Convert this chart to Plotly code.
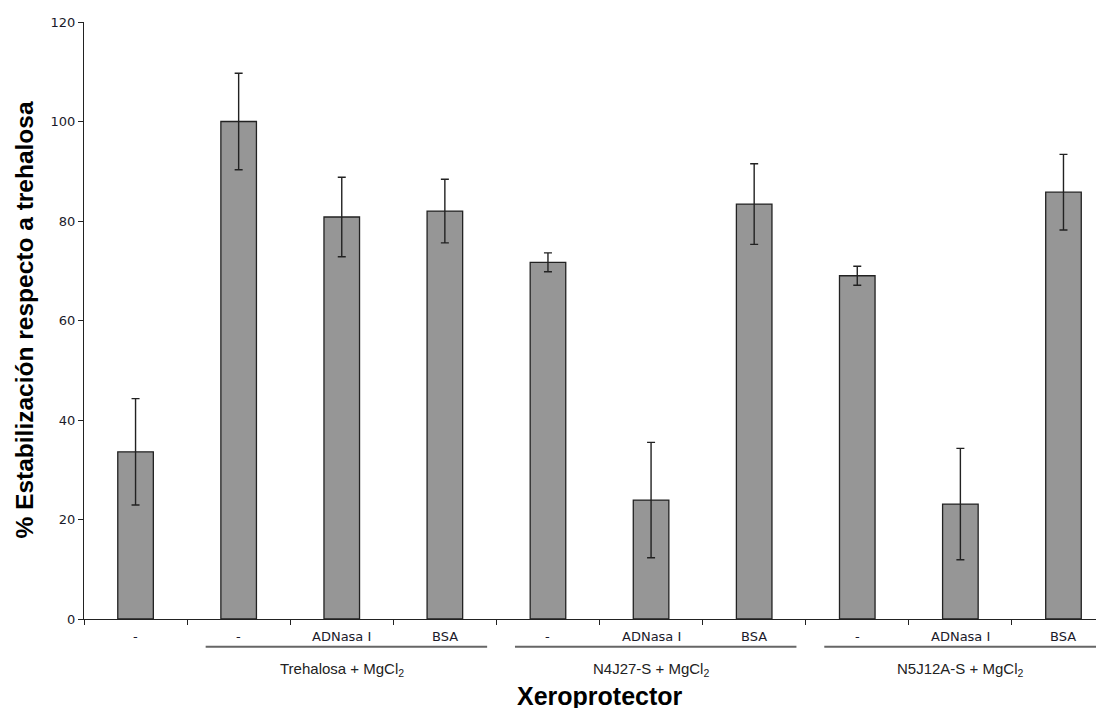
import plotly.graph_objects as go

# ---- data ----
categories = ["-", "-", "ADNasa I", "BSA", "-", "ADNasa I", "BSA", "-", "ADNasa I", "BSA"]
values = [33.6, 100.0, 80.8, 82.0, 71.7, 23.9, 83.4, 69.0, 23.1, 85.8]
errors = [10.7, 9.7, 8.0, 6.4, 1.9, 11.6, 8.1, 1.9, 11.2, 7.6]
groups = ["Trehalosa + MgCl<sub>2</sub>", "N4J27-S + MgCl<sub>2</sub>", "N5J12A-S + MgCl<sub>2</sub>"]
group_members = [[1, 2, 3], [4, 5, 6], [7, 8, 9]]
y_ticks = [0, 20, 40, 60, 80, 100, 120]

xpos = list(range(len(categories)))

fig = go.Figure()
fig.add_trace(go.Bar(
    x=xpos, y=values, width=0.345,
    marker=dict(color="#969696", line=dict(color="#222222", width=1.3)),
    error_y=dict(type="data", array=errors, visible=True, color="#222222",
                 thickness=1.4, width=4),
    showlegend=False,
))

annotations = []
shapes = []
# category labels
for i, c in enumerate(categories):
    annotations.append(dict(x=i, y=0, xref="x", yref="paper", text=c, showarrow=False,
                            yanchor="middle", yshift=-17,
                            font=dict(family="DejaVu Sans", size=13, color="#1a1a2a")))
# group labels and lines
for g, members in zip(groups, group_members):
    cx = (members[0] + members[-1]) / 2
    annotations.append(dict(x=cx, y=0, xref="x", yref="paper", text=g, showarrow=False,
                            yanchor="middle", yshift=-50,
                            font=dict(family="Liberation Sans, Arial", size=15, color="#222222")))
    shapes.append(dict(type="line", xref="x", yref="paper",
                       x0=members[0] - 0.32, x1=members[-1] + 0.41,
                       y0=-0.0465, y1=-0.0465,
                       line=dict(color="#666666", width=2)))

annotations.append(dict(x=0.506, y=0, xref="paper", yref="paper", text="<b>Xeroprotector</b>",
                        showarrow=False, yanchor="middle", yshift=-77,
                        font=dict(family="Liberation Sans, Arial", size=25, color="#000000")))
annotations.append(dict(x=0, y=0.5, xref="paper", yref="paper",
                        text="<b>% Estabilización respecto a trehalosa</b>",
                        showarrow=False, textangle=-90, xanchor="center", yanchor="middle",
                        xshift=-60,
                        font=dict(family="Liberation Sans, Arial", size=24.5, color="#000000")))

fig.update_layout(
    width=1104, height=708,
    margin=dict(l=76, r=8, t=14, b=97),
    paper_bgcolor="white", plot_bgcolor="white",
    annotations=annotations, shapes=shapes,
    xaxis=dict(range=[-0.5, 9.393], showgrid=False, zeroline=False,
               showline=True, linecolor="#222222", linewidth=1.3,
               tickvals=xpos, ticktext=["" for _ in xpos], ticks="",
               minor=dict(tick0=-0.5, dtick=1, ticks="outside", ticklen=5,
                          tickcolor="#222222", tickwidth=1.2, showgrid=False)),
    yaxis=dict(range=[0, 120], tickvals=y_ticks, showgrid=False, zeroline=False,
               showline=True, linecolor="#222222", linewidth=1.3,
               ticks="outside", ticklen=5, tickcolor="#222222", tickwidth=1.2,
               tickfont=dict(family="DejaVu Sans", size=13, color="#1a1a2a")),
)

fig.write_html("out.html")
